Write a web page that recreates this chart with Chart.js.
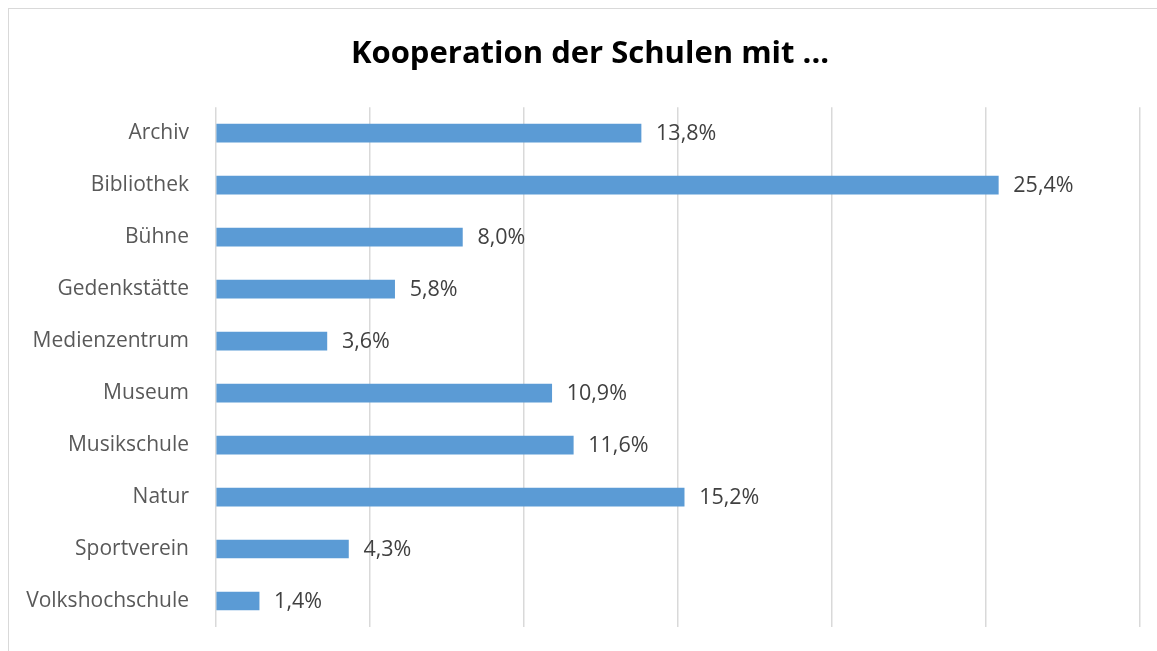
<!DOCTYPE html>
<html>
<head>
<meta charset="utf-8">
<script src="https://cdn.jsdelivr.net/npm/chart.js@4.4.1/dist/chart.umd.min.js"></script>
<style>
html,body{margin:0;padding:0;background:#fff;}
#wrap{position:relative;width:1157px;height:651px;overflow:hidden;}
#frame{position:absolute;left:8px;top:8px;width:1200px;height:700px;border-left:1px solid #d9d9d9;border-top:1px solid #d9d9d9;}
canvas{position:absolute;left:0;top:0;}
</style>
</head>
<body>
<div id="wrap"><div id="frame"></div><canvas id="c" width="1157" height="651"></canvas></div>
<script>
const categories = ["Archiv","Bibliothek","Bühne","Gedenkstätte","Medienzentrum","Museum","Musikschule","Natur","Sportverein","Volkshochschule"];
const values = [13.8, 25.4, 8.0, 5.8, 3.6, 10.9, 11.6, 15.2, 4.3, 1.4];
const xTicks = [0,5,10,15,20,25,30];
const titleText = "Kooperation der Schulen mit ...";

const FONT = "'Open Sans', 'Liberation Sans', sans-serif";

const labelPlugin = {
  id: 'valueLabels',
  afterLayout(chart) {
    // let the category labels extend into the left margin without clipping
    chart.scales.y.left = 0;
  },
  afterDatasetsDraw(chart) {
    const ctx = chart.ctx;
    const meta = chart.getDatasetMeta(0);
    ctx.save();
    ctx.font = "21.5px " + FONT;
    ctx.fillStyle = "#404040";
    ctx.textAlign = "left";
    ctx.textBaseline = "middle";
    meta.data.forEach((bar, i) => {
      const txt = values[i].toFixed(1).replace('.', ',') + '%';
      ctx.fillText(txt, bar.x + 15, bar.y + 1);
    });
    ctx.restore();
  }
};

new Chart(document.getElementById('c'), {
  type: 'bar',
  data: {
    labels: categories,
    datasets: [{
      data: values,
      backgroundColor: '#5B9BD5',
      borderWidth: 0,
      barThickness: 18
    }]
  },
  options: {
    indexAxis: 'y',
    responsive: false,
    animation: false,
    layout: { padding: { left: 40, right: 17, top: 0, bottom: 24 } },
    plugins: {
      legend: { display: false },
      tooltip: { enabled: false },
      title: {
        display: true,
        text: titleText,
        color: '#000',
        font: { family: FONT, size: 31, weight: 'bold', lineHeight: 1.2 },
        padding: { top: 36, bottom: 34 }
      }
    },
    scales: {
      x: {
        min: 0, max: 30,
        afterBuildTicks(scale) { scale.ticks = xTicks.map(v => ({ value: v })); },
        ticks: { display: false },
        grid: { color: '#d9d9d9', lineWidth: 1.5, drawTicks: false },
        border: { display: false },
        afterFit(scale) { scale.height = 0; }
      },
      y: {
        grid: { display: false, drawTicks: false },
        border: { display: false },
        ticks: {
          color: '#595959',
          font: { family: FONT, size: 21 },
          padding: 27
        },
        afterFit(scale) { scale.width = 176; scale.paddingTop = 0; scale.paddingBottom = 0; }
      }
    }
  },
  plugins: [labelPlugin]
});
</script>
</body>
</html>
